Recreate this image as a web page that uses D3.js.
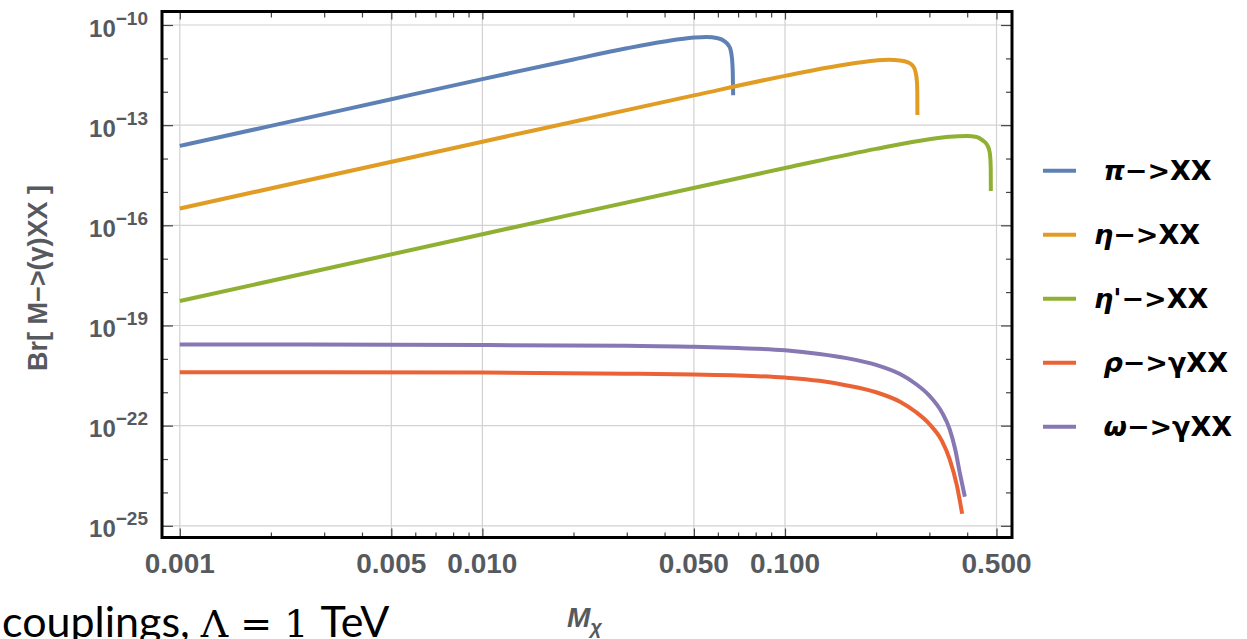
<!DOCTYPE html>
<html><head><meta charset="utf-8">
<script src="https://cdn.jsdelivr.net/npm/d3@7"></script>
<style>html,body{margin:0;padding:0;background:#fff;overflow:hidden}</style>
</head><body>
<svg id="c" width="1247" height="639" xmlns="http://www.w3.org/2000/svg"></svg>
<script>
// ---------- data ----------
const piX   = [0.001, 0.002, 0.005, 0.01, 0.02, 0.03, 0.04, 0.05, 0.055, 0.06, 0.063, 0.065, 0.066, 0.0668, 0.0672, 0.0674];
const piBr  = [2.4e-14, 9.5e-14, 6.0e-13, 2.4e-12, 9.3e-12, 2.0e-11, 3.2e-11, 4.2e-11, 4.4e-11, 4.0e-11, 3.3e-11, 2.5e-11, 1.9e-11, 1.0e-11, 4.0e-12, 7.9e-13];

const etaX  = [0.001, 0.01, 0.05, 0.1, 0.15, 0.2, 0.22, 0.24, 0.255, 0.265, 0.27, 0.273, 0.2737, 0.2739];
const etaBr = [3.2e-16, 3.2e-14, 7.8e-13, 3.0e-12, 6.0e-12, 8.7e-12, 9.1e-12, 8.7e-12, 7.6e-12, 5.9e-12, 3.9e-12, 1.95e-12, 1.0e-12, 2.0e-13];

const etapX  = [0.001, 0.01, 0.1, 0.2, 0.3, 0.35, 0.4, 0.43, 0.45, 0.465, 0.473, 0.477, 0.4785, 0.4789];
const etapBr = [5.4e-19, 5.4e-17, 5.2e-15, 1.95e-14, 3.8e-14, 4.5e-14, 4.7e-14, 4.4e-14, 3.5e-14, 2.6e-14, 1.8e-14, 1.05e-14, 5.0e-15, 1.07e-15];

const rhoX  = [0.001, 0.01, 0.03, 0.05, 0.07, 0.1, 0.13, 0.16, 0.2, 0.24, 0.27, 0.3, 0.33, 0.35, 0.37, 0.385];
const rhoBr = [4.0e-21, 3.9e-21, 3.6e-21, 3.4e-21, 3.2e-21, 2.75e-21, 2.2e-21, 1.6e-21, 1.0e-21, 5.2e-22, 2.6e-22, 1.12e-22, 3.5e-23, 1.0e-23, 1.6e-24, 2.3e-25];

const omegaX  = [0.001, 0.01, 0.03, 0.05, 0.07, 0.1, 0.13, 0.16, 0.2, 0.24, 0.27, 0.3, 0.33, 0.35, 0.365, 0.379, 0.393];
const omegaBr = [2.7e-20, 2.6e-20, 2.45e-20, 2.3e-20, 2.1e-20, 1.8e-20, 1.4e-20, 1.05e-20, 6.6e-21, 3.5e-21, 1.8e-21, 7.9e-22, 2.5e-22, 7.9e-23, 2.0e-23, 3.5e-24, 7.4e-25];

const legendGreek = [" π", "η", "η'", " ρ", " ω"];
const legendRest  = ["−>XX", "−>XX", "−>XX", "−>γXX", "−>γXX"];
const seriesColors = ["#5E81B5", "#E19C24", "#8FB032", "#EB6235", "#8778B3"];

const xMajorTicks = [0.001, 0.005, 0.01, 0.05, 0.1, 0.5];
const xTickLabels = ["0.001", "0.005", "0.010", "0.050", "0.100", "0.500"];
const xMinorTicks = [0.002, 0.003, 0.004, 0.006, 0.007, 0.008, 0.009, 0.02, 0.03, 0.04, 0.06, 0.07, 0.08, 0.09, 0.2, 0.3, 0.4];
const yMajorTicks = [1e-10, 1e-13, 1e-16, 1e-19, 1e-22, 1e-25];
const yTickExps   = ["−10", "−13", "−16", "−19", "−22", "−25"];
const yMinorTicks = [1e-11, 1e-12, 1e-14, 1e-15, 1e-17, 1e-18, 1e-20, 1e-21, 1e-23, 1e-24];

// ---------- layout ----------
const frame = {x0: 162, x1: 1012, y0: 11.5, y1: 537.5};
const x = d3.scaleLog().domain([0.001, 0.5]).range([179.8, 996.5]);
const y = d3.scaleLog().domain([1e-25, 1e-10]).range([525.8, 25]);

const svg = d3.select("#c");
const labelColor = "#565a5f";
const tickFont = "'Liberation Sans', Arial, sans-serif";

svg.append("defs").append("clipPath").attr("id", "clip")
  .append("rect").attr("x", frame.x0).attr("y", frame.y0)
  .attr("width", frame.x1 - frame.x0).attr("height", frame.y1 - frame.y0);

// grid lines
const grid = svg.append("g");
grid.selectAll("line.gx").data(xMajorTicks).join("line")
  .attr("x1", d => x(d)).attr("x2", d => x(d))
  .attr("y1", frame.y0).attr("y2", frame.y1)
  .attr("stroke", "#d2d2d2").attr("stroke-width", 1.2);
grid.selectAll("line.gy").data(yMajorTicks).join("line")
  .attr("y1", d => y(d)).attr("y2", d => y(d))
  .attr("x1", frame.x0).attr("x2", frame.x1)
  .attr("stroke", "#d2d2d2").attr("stroke-width", 1.2);

// inward ticks via d3 axes
function styleAxis(g) {
  g.select(".domain").remove();
  g.selectAll(".tick line").attr("stroke", "#444").attr("stroke-width", 1.2);
  g.selectAll(".tick text").remove();
}
svg.append("g").attr("transform", `translate(0,${frame.y1})`)
  .call(d3.axisBottom(x).tickValues(xMajorTicks).tickSize(-9)).call(styleAxis);
svg.append("g").attr("transform", `translate(0,${frame.y1})`)
  .call(d3.axisBottom(x).tickValues(xMinorTicks).tickSize(-5)).call(styleAxis);
svg.append("g").attr("transform", `translate(0,${frame.y0})`)
  .call(d3.axisTop(x).tickValues(xMajorTicks).tickSize(-8)).call(styleAxis);
svg.append("g").attr("transform", `translate(0,${frame.y0})`)
  .call(d3.axisTop(x).tickValues(xMinorTicks).tickSize(-6)).call(styleAxis);
svg.append("g").attr("transform", `translate(${frame.x0},0)`)
  .call(d3.axisLeft(y).tickValues(yMajorTicks).tickSize(-11)).call(styleAxis);
svg.append("g").attr("transform", `translate(${frame.x0},0)`)
  .call(d3.axisLeft(y).tickValues(yMinorTicks).tickSize(-6)).call(styleAxis);
svg.append("g").attr("transform", `translate(${frame.x1},0)`)
  .call(d3.axisRight(y).tickValues(yMajorTicks).tickSize(-11)).call(styleAxis);
svg.append("g").attr("transform", `translate(${frame.x1},0)`)
  .call(d3.axisRight(y).tickValues(yMinorTicks).tickSize(-6)).call(styleAxis);

// x tick labels
svg.append("g").selectAll("text").data(xMajorTicks).join("text")
  .attr("x", d => x(d)).attr("y", 573)
  .attr("text-anchor", "middle")
  .attr("font-family", tickFont).attr("font-weight", "bold").attr("font-size", 28)
  .attr("fill", labelColor)
  .text((d, i) => xTickLabels[i]);

// y tick labels 10^-n
const yl = svg.append("g").selectAll("text").data(yMajorTicks).join("text")
  .attr("x", 148).attr("y", d => y(d) + 11.5)
  .attr("text-anchor", "end")
  .attr("font-family", tickFont).attr("font-weight", "bold").attr("font-size", 24)
  .attr("fill", labelColor);
yl.append("tspan").text("10");
yl.append("tspan").attr("dy", -12).attr("font-size", 19).text((d, i) => yTickExps[i]);

// curves
const line = d3.line().x(d => x(d[0])).y(d => y(d[1])).curve(d3.curveMonotoneX);
const series = [
  d3.zip(piX, piBr), d3.zip(etaX, etaBr), d3.zip(etapX, etapBr),
  d3.zip(rhoX, rhoBr), d3.zip(omegaX, omegaBr)
];
svg.append("g").attr("clip-path", "url(#clip)")
  .selectAll("path").data(series).join("path")
  .attr("d", d => line(d))
  .attr("fill", "none")
  .attr("stroke", (d, i) => seriesColors[i])
  .attr("stroke-width", 4)
  .attr("stroke-linejoin", "round");

// frame
svg.append("rect")
  .attr("x", frame.x0).attr("y", frame.y0)
  .attr("width", frame.x1 - frame.x0).attr("height", frame.y1 - frame.y0)
  .attr("fill", "none").attr("stroke", "#000").attr("stroke-width", 3);

// axis titles
svg.append("text")
  .attr("transform", "translate(47,278) rotate(-90)")
  .attr("text-anchor", "middle")
  .attr("font-family", tickFont).attr("font-weight", "bold").attr("font-size", 27)
  .attr("fill", labelColor)
  .text("Br[ M−>(γ)XX ]");

const xt = svg.append("text")
  .attr("x", 567).attr("y", 627)
  .attr("font-family", tickFont).attr("font-weight", "bold").attr("font-style", "italic")
  .attr("font-size", 28).attr("fill", labelColor);
xt.append("tspan").text("M");
xt.append("tspan").attr("dy", 7).attr("font-size", 20).text("χ");

// legend
const lg = svg.append("g").selectAll("g").data(legendGreek).join("g")
  .attr("transform", (d, i) => `translate(0,${170.7 + i * 64})`);
lg.append("line").attr("x1", 1043).attr("x2", 1076)
  .attr("stroke", (d, i) => seriesColors[i]).attr("stroke-width", 4);
const lt = lg.append("text").attr("x", 1094).attr("y", 9.5)
  .attr("font-family", "'DejaVu Sans', sans-serif").attr("font-weight", "bold")
  .attr("font-size", 27).attr("fill", "#000").style("white-space", "pre");
lt.append("tspan").attr("font-style", "italic").text(d => d);
lt.append("tspan").text((d, i) => legendRest[i]);

// slide text below the chart
const bt = svg.append("text").attr("x", 2).attr("y", 637)
  .attr("font-family", "Lato, 'Open Sans', sans-serif").attr("font-size", 43).attr("fill", "#000")
  .style("white-space", "pre");
bt.append("tspan").text("couplings, ");
bt.append("tspan").attr("font-family", "'DejaVu Serif', serif").attr("font-size", 38).text("Λ = 1 ");
bt.append("tspan").text("TeV");
</script>
</body></html>
